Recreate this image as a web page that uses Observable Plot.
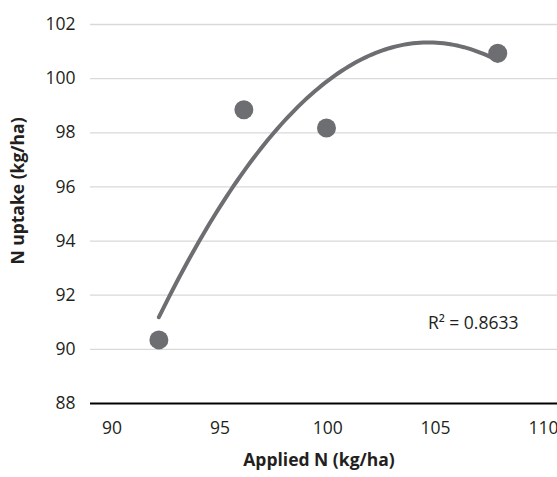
<!DOCTYPE html>
<html>
<head>
<meta charset="utf-8">
<script src="https://cdn.jsdelivr.net/npm/d3@7"></script>
<script src="https://cdn.jsdelivr.net/npm/@observablehq/plot@0.6"></script>
<style>
  html, body { margin: 0; padding: 0; background: #fff; }
  #chart svg { display: block; }
</style>
</head>
<body>
<div id="chart"></div>
<script>
const appliedN = [92.17, 96.11, 99.94, 107.88];
const nUptake = [90.35, 98.85, 98.18, 100.94];
const xTicks = [90, 95, 100, 105, 110];
const yTicks = [88, 90, 92, 94, 96, 98, 100, 102];
const r2Label = "R\u00B2 = 0.8633";
const xTitle = "Applied N (kg/ha)";
const yTitle = "N uptake (kg/ha)";

const data = appliedN.map((x, i) => ({x, y: nUptake[i]}));

// quadratic least-squares trendline (y = a + b x + c x^2)
function quadFit(xs, ys) {
  const n = xs.length;
  let S = [0,0,0,0,0], T = [0,0,0];
  for (let i = 0; i < n; i++) {
    let p = 1;
    for (let k = 0; k < 5; k++) { S[k] += p; if (k < 3) T[k] += p * ys[i]; p *= xs[i]; }
  }
  const A = [[S[0],S[1],S[2],T[0]],[S[1],S[2],S[3],T[1]],[S[2],S[3],S[4],T[2]]];
  for (let c = 0; c < 3; c++) {
    let m = c; for (let r = c+1; r < 3; r++) if (Math.abs(A[r][c]) > Math.abs(A[m][c])) m = r;
    [A[c], A[m]] = [A[m], A[c]];
    for (let r = 0; r < 3; r++) if (r !== c) {
      const f = A[r][c] / A[c][c];
      for (let k = c; k < 4; k++) A[r][k] -= f * A[c][k];
    }
  }
  return [A[0][3]/A[0][0], A[1][3]/A[1][1], A[2][3]/A[2][2]];
}
const [a, b, c] = quadFit(appliedN, nUptake);
const x0 = d3.min(appliedN), x1 = d3.max(appliedN);
const curve = d3.range(0, 101).map(i => {
  const x = x0 + (x1 - x0) * i / 100;
  return {x, y: a + b * x + c * x * x};
});

const grey = "#6d6e71";
const ink = "#231f20";
const fs = 17.5;
const chart = Plot.plot({
  width: 557,
  height: 477,
  marginLeft: 90,
  marginRight: 0,
  marginTop: 24,
  marginBottom: 74,
  style: {fontFamily: "'Open Sans', sans-serif", fontSize: fs + "px", color: ink, background: "#fff"},
  x: {domain: [89, 110.65]},
  y: {domain: [88, 102]},
  marks: [
    Plot.ruleY(yTicks.filter(d => d > 88), {stroke: "#d9d9d9", strokeWidth: 1.3}),
    Plot.ruleY([88], {stroke: "#000", strokeWidth: 2}),
    Plot.axisX({ticks: xTicks, tickSize: 0, tickPadding: 18, label: null, fontSize: fs, fill: ink}),
    Plot.axisY({ticks: yTicks, tickSize: 0, tickPadding: 15, label: null, fontSize: fs, fill: ink}),
    Plot.line(curve, {x: "x", y: "y", stroke: grey, strokeWidth: 4, strokeLinecap: "round"}),
    Plot.dot(data, {x: "x", y: "y", r: 9.5, fill: grey, stroke: null}),
    Plot.text([r2Label], {frameAnchor: "bottom-right", textAnchor: "end", lineAnchor: "bottom", dx: -39, dy: -75, fontSize: fs, fill: ink}),
    Plot.text([xTitle], {frameAnchor: "bottom", textAnchor: "middle", lineAnchor: "middle", dx: -5, dy: 57, fontSize: fs, fontWeight: "bold", fill: ink}),
    Plot.text([yTitle], {frameAnchor: "left", textAnchor: "middle", lineAnchor: "middle", dx: -72, dy: -23, rotate: -90, fontSize: fs, fontWeight: "bold", fill: ink})
  ]
});
document.getElementById("chart").appendChild(chart);
</script>
</body>
</html>
